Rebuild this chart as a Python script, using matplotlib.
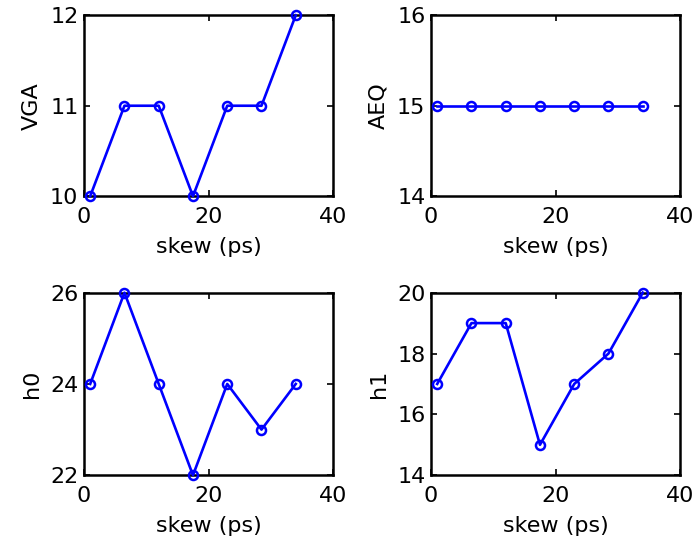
import matplotlib
matplotlib.use("Agg")
import matplotlib.pyplot as plt

plt.rcParams['font.family'] = ['DejaVu Sans']

skew = [1, 6.5, 12, 17.5, 23, 28.5, 34]
vga = [10, 11, 11, 10, 11, 11, 12]
aeq = [15, 15, 15, 15, 15, 15, 15]
h0 = [24, 26, 24, 22, 24, 23, 24]
h1 = [17, 19, 19, 15, 17, 18, 20]

panels = [
    ("VGA", vga, (10, 12), [10, 11, 12]),
    ("AEQ", aeq, (14, 16), [14, 15, 16]),
    ("h0", h0, (22, 26), [22, 24, 26]),
    ("h1", h1, (14, 20), [14, 16, 18, 20]),
]
positions = [
    [0.121, 0.640, 0.359, 0.332],
    [0.621, 0.640, 0.359, 0.332],
    [0.121, 0.128, 0.359, 0.335],
    [0.621, 0.128, 0.359, 0.335],
]

fs = 16
fig = plt.figure(figsize=(6.94, 5.45), dpi=100)
for (name, vals, ylim, yticks), pos in zip(panels, positions):
    ax = fig.add_axes(pos)
    ax.plot(skew, vals, color='#0000ff', linewidth=1.9, marker='o',
            markersize=6.5, markerfacecolor='none', markeredgewidth=1.8,
            clip_on=False, zorder=3)
    ax.set_xlim(0, 40)
    ax.set_ylim(*ylim)
    ax.set_xticks([0, 20, 40])
    ax.set_yticks(yticks)
    ax.set_xlabel("skew (ps)", fontsize=fs, labelpad=7)
    ax.set_ylabel(name, fontsize=fs, labelpad=6)
    ax.tick_params(direction='in', top=True, right=True, labelsize=fs,
                   length=4, width=1.2)
    ax.tick_params(axis='x', pad=8)
    ax.tick_params(axis='y', pad=4)
    for s in ax.spines.values():
        s.set_linewidth(1.8)

fig.savefig("out.png", dpi=100)
